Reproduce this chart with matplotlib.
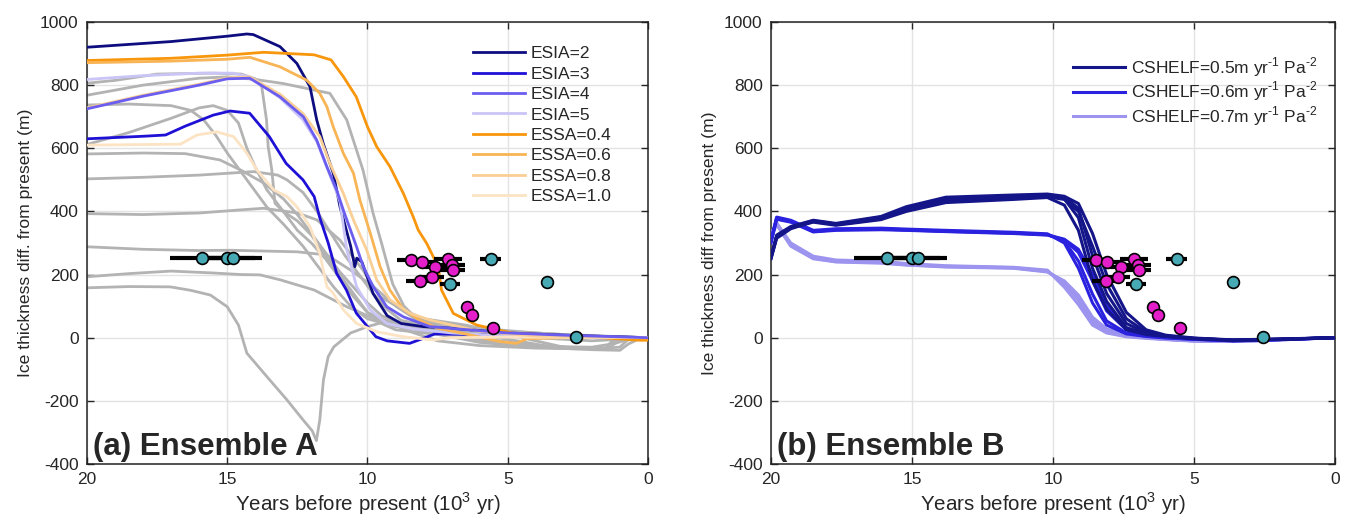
import matplotlib.pyplot as plt

plt.rcParams['font.family'] = ['Liberation Sans', 'DejaVu Sans']
plt.rcParams['text.color'] = '#262626'
plt.rcParams['axes.labelcolor'] = '#262626'
plt.rcParams['xtick.color'] = '#262626'
plt.rcParams['ytick.color'] = '#262626'
plt.rcParams['axes.unicode_minus'] = False
plt.rcParams['mathtext.fontset'] = 'custom'
plt.rcParams['mathtext.rm'] = 'Liberation Sans'

# ---- Ensemble A: highlighted runs (x in 10^3 yr BP, y in m) ----
esia2_x = [20, 17, 15, 14.3, 14.07, 13.12, 12.52, 12.05, 11.81, 11.58, 11.22, 10.98, 10.6, 10.45, 10.38,
           10.2, 9.8, 9.3, 8.8, 8.0, 7.0, 5.0, 3.0, 0]
esia2_y = [920, 938, 955, 962, 960, 922, 869, 795, 690, 616, 521, 415, 290, 225, 252,
           240, 140, 70, 45, 35, 30, 15, 8, 0]
esia3_x = [20, 18, 17.2, 16.5, 15.5, 14.9, 14.2, 13.5, 12.9, 12.3, 11.9, 11.7, 11.4, 11.1, 10.75,
           10.4, 10.0, 9.7, 9.3, 8.5, 8.1, 7.6, 6.0, 3.0, 0]
esia3_y = [630, 638, 642, 670, 705, 718, 711, 637, 552, 500, 447, 380, 300, 204, 151,
           78, 35, 3, -10, -18, -5, 12, 10, 4, 0]
esia4_x = [20, 18, 16, 15, 14.2, 13.12, 12.29, 11.81, 11.45, 11.1, 10.86, 10.39, 10.15, 9.8, 9.31,
           8.72, 7.77, 5.0, 3.0, 0]
esia4_y = [725, 765, 800, 820, 822, 763, 700, 626, 542, 468, 404, 288, 225, 162, 98,
           66, 35, 15, 8, 0]
esia5_x = [20, 18, 16, 14.8, 14.2, 13.12, 12.3, 11.8, 11.45, 11.1, 10.98, 10.74, 10.39, 9.9, 9.31,
           8.4, 7.0, 5.0, 0]
esia5_y = [818, 830, 838, 838, 826, 760, 690, 620, 540, 460, 430, 280, 162, 88, 45,
           28, 15, 5, 0]
essa04_x = [20, 17, 15, 13.7, 11.9, 11.3, 10.86, 10.4, 10.0, 9.67, 9.2, 8.72, 8.37, 8.19, 7.89,
            7.48, 7.36, 6.94, 6.1, 4.8, 2.0, 0.8, 0.3, 0]
essa04_y = [878, 885, 895, 904, 896, 880, 827, 763, 668, 605, 542, 457, 383, 341, 299,
            225, 151, 77, 40, 14, 2, -5, -8, -8]
essa06_x = [20, 17, 15, 14.19, 13.12, 12.17, 11.7, 11.45, 11.22, 10.86, 10.5, 10.27, 9.9, 9.55, 9.2,
            8.72, 8.13, 7.5, 6.5, 5.3, 4.7, 4.3, 2.0, 0]
essa06_y = [871, 876, 882, 888, 858, 816, 774, 732, 668, 584, 521, 436, 331, 225, 151,
            90, 55, 30, 12, -12, -18, -3, 2, 0]
essa08_x = [20, 18, 16, 15, 14.2, 13.1, 12.3, 11.7, 11.34, 10.86, 10.5, 10.03, 9.67, 9.2, 8.48,
            7.77, 6.0, 4.0, 0]
essa08_y = [728, 768, 803, 823, 826, 770, 710, 637, 552, 457, 373, 278, 183, 120, 77,
            56, 20, 5, 0]
essa10_x = [20, 16.67, 16.08, 15.37, 14.77, 14.3, 13.94, 13.34, 12.87, 12.52, 12.05, 11.7, 11.45, 11.22, 10.86,
            10.39, 9.67, 8.72, 7.66, 7.06, 5.0, 0]
essa10_y = [610, 613, 642, 652, 637, 584, 531, 468, 447, 415, 352, 267, 162, 141, 88,
            45, 19, 3, -7, 0, 2, 0]

# ---- Ensemble A: other runs (grey) ----
grey_x = [
    [20, 19, 17.5, 15.5, 14.5, 14.0, 13.77, 13.6, 13.54, 13.41, 13.3, 13.0, 12.5, 12.0, 11.5, 11.0,
     10.5, 10.0, 9.5, 9.0, 7.0, 5.0, 3.0, 1.5, 1.2, 0.5, 0],
    [20, 18, 16, 15, 14, 13, 12.2, 11.34, 10.74, 10.16, 9.8, 9.5, 9.1, 8.7, 8.3, 7.5, 6.0, 4.0, 2.0, 0],
    [20, 18.5, 17, 16.3, 15.84, 15.4, 15.0, 14.3, 13.58, 13.0, 12.3, 11.8, 11.2, 10.6, 10.0, 9.0, 7.0,
     4.0, 2.0, 1.0, 0.7, 0],
    [20, 18.5, 17, 16, 15.5, 15.0, 14.6, 14.3, 14.0, 13.6, 13.0, 12.5, 12.0, 11.5, 11.0, 10.5, 10.0,
     9.0, 7.0, 5.0, 2.0, 0],
    [20, 18, 16.5, 15.26, 14.5, 13.7, 13.0, 12.5, 12.0, 11.5, 11.0, 10.5, 10.0, 9.5, 9.0, 8.0, 6.0, 3.0, 0],
    [20, 18, 16, 14.06, 13.2, 12.87, 12.3, 11.8, 11.3, 10.8, 10.3, 9.8, 9.3, 8.8, 8.0, 6.0, 3.0, 0],
    [20, 18, 16, 14.5, 13.7, 12.5, 11.8, 10.98, 10.16, 9.55, 8.73, 8.0, 6.5, 5.0, 3.0, 1.5, 1.0, 0],
    [20, 18, 16, 14.9, 12.5, 11.45, 10.6, 9.79, 8.96, 8.3, 7.0, 5.0, 3.5, 2.0, 1.3, 0.5, 0],
    [20, 18.5, 17.0, 15.5, 14.5, 13.83, 13.1, 11.9, 10.74, 9.9, 9.0, 8.0, 6.0, 4.0, 2.0, 1.0, 0.7, 0.3, 0],
    [20, 18.5, 17.03, 16.3, 15.6, 15.0, 14.6, 14.3, 13.58, 12.87, 12.3, 11.97, 11.82, 11.7, 11.57, 11.4,
     11.2, 10.6, 10.0, 9.4, 9.0, 8.5, 7.5, 6.0, 4.0, 2.5, 1.5, 1.3, 0.5, 0],
]
grey_y = [
    [806, 815, 835, 838, 835, 820, 795, 690, 605, 531, 426, 400, 370, 325, 260, 200,
     140, 80, 45, 25, 5, -20, -30, -35, -12, 0, 0],
    [768, 800, 822, 826, 818, 805, 790, 774, 690, 531, 394, 300, 170, 100, 65, 45, 30, 15, 5, 0],
    [737, 740, 735, 720, 690, 640, 585, 500, 413, 360, 290, 230, 160, 100, 60, 35, 10,
     -25, -35, -30, -5, 0],
    [612, 650, 695, 728, 735, 720, 680, 600, 540, 470, 400, 340, 300, 250, 190, 130, 80,
     40, 20, 5, -10, 0],
    [582, 585, 583, 563, 530, 490, 440, 390, 330, 270, 210, 160, 110, 70, 50, 35, 20, 5, 0],
    [503, 508, 515, 526, 515, 500, 460, 400, 330, 260, 200, 140, 90, 55, 40, 25, 10, 0],
    [393, 390, 395, 405, 410, 395, 373, 309, 214, 130, 88, 60, 40, 10, -30, -35, -10, 0],
    [288, 280, 276, 277, 272, 262, 214, 162, 98, 60, 25, -5, -28, -30, -20, -2, 0],
    [193, 203, 211, 205, 200, 199, 183, 151, 98, 66, 45, 20, -15, -30, -38, -40, -20, -3, 0],
    [158, 162, 161, 150, 135, 98, 40, -49, -124, -197, -260, -295, -326, -260, -134, -60,
     -29, 15, 35, 50, 40, 20, -10, -25, -33, -35, -33, -12, 0, 0],
]

# ---- Ensemble B: common time axis, members per CSHELF value ----
b_years = [20, 19.8, 19.3, 18.5, 17.7, 16.1, 15.2, 13.8, 11.4, 10.2, 9.6, 9.1, 8.6, 8.1, 7.4,
           6.7, 6.0, 5.0, 3.6, 2.0, 0]
cshelf05_runs = [
    [254, 320, 350, 370, 360, 380, 412, 440, 449, 452, 440, 380, 220, 115, 32, 12, 5, -3, -8, -5, 0],
    [250, 315, 345, 368, 358, 376, 405, 432, 442, 446, 438, 400, 290, 170, 60, 18, 6, -2, -8, -5, 0],
    [256, 325, 352, 372, 362, 384, 415, 445, 452, 455, 448, 425, 330, 200, 80, 25, 8, -1, -7, -4, 0],
    [252, 318, 348, 366, 356, 374, 400, 428, 438, 444, 420, 340, 180, 90, 25, 10, 4, -3, -8, -5, 0],
    [255, 322, 350, 370, 360, 382, 410, 438, 446, 450, 445, 410, 260, 140, 45, 15, 5, -2, -8, -5, 0],
]
cshelf06_runs = [
    [306, 380, 370, 338, 343, 345, 342, 338, 332, 327, 306, 243, 138, 53, 15, 5, 0, -5, -10, -6, 0],
    [300, 375, 366, 335, 340, 342, 340, 336, 330, 325, 310, 270, 180, 85, 25, 8, 2, -4, -9, -6, 0],
    [310, 382, 372, 340, 345, 347, 344, 340, 334, 329, 300, 220, 110, 40, 12, 4, -1, -5, -10, -6, 0],
    [304, 378, 368, 336, 342, 344, 341, 337, 331, 326, 312, 280, 200, 100, 30, 10, 2, -4, -9, -6, 0],
]
cshelf07_runs = [
    [327, 364, 296, 254, 243, 240, 233, 226, 222, 211, 170, 120, 50, 20, 5, 0, -5, -10, -12, -7, 0],
    [320, 358, 290, 250, 240, 236, 230, 224, 220, 208, 180, 135, 65, 28, 8, 0, -5, -10, -12, -7, 0],
    [330, 362, 300, 258, 246, 242, 235, 228, 223, 214, 160, 105, 40, 15, 3, -2, -6, -11, -12, -7, 0],
    [324, 360, 292, 252, 241, 238, 231, 225, 221, 210, 175, 128, 58, 24, 6, 0, -5, -10, -12, -7, 0],
]
cshelf_labels = ['CSHELF=0.5m yr$^{\\text{-1}}$ Pa$^{\\text{-2}}$',
                 'CSHELF=0.6m yr$^{\\text{-1}}$ Pa$^{\\text{-2}}$',
                 'CSHELF=0.7m yr$^{\\text{-1}}$ Pa$^{\\text{-2}}$']

# ---- observations ----
pink_age = [8.46, 8.07, 7.12, 7.59, 6.97, 6.96, 8.13, 7.71, 6.44, 6.29, 5.51]
pink_thk = [246, 241, 248, 223, 230, 214, 180, 191, 96, 72, 30]
pink_err = [0.5, 0.5, 0.5, 0.45, 0.45, 0.45, 0.5, 0.45, 0, 0, 0]
teal_age = [15.9, 15.0, 14.8, 5.61, 7.06, 3.61, 2.57]
teal_thk = [252, 252, 252, 248, 170, 177, 1]
teal_err = [1.15, 1.0, 1.05, 0.37, 0.35, 0, 0]

xticks = [20, 15, 10, 5, 0]
yticks = [-400, -200, 0, 200, 400, 600, 800, 1000]


def style_axes(ax, ylabel, tag):
    ax.set_xlim(20, 0)
    ax.set_ylim(-400, 1000)
    ax.set_xticks(xticks)
    ax.set_yticks(yticks)
    ax.tick_params(direction='in', length=5, width=1, top=True, right=True,
                   labelsize=12.5, pad=6)
    ax.grid(True, color='#e3e3e3', lw=1)
    ax.set_axisbelow(True)
    for sp in ax.spines.values():
        sp.set_linewidth(1.1)
        sp.set_color('#222222')
    ax.set_xlabel('Years before present (10$^3$ yr)', fontsize=14.8, labelpad=2)
    ax.set_ylabel(ylabel, fontsize=12.6, labelpad=5)
    ax.text(0.011, 0.02, tag, transform=ax.transAxes, fontsize=22.5, fontweight='bold',
            va='baseline', ha='left', color='#262626')


def draw_obs(ax):
    ax.errorbar(pink_age, pink_thk, xerr=pink_err, fmt='none', ecolor='black', elinewidth=3,
                capsize=0, zorder=5)
    ax.errorbar(teal_age, teal_thk, xerr=teal_err, fmt='none', ecolor='black', elinewidth=3,
                capsize=0, zorder=5)
    ax.plot(pink_age, pink_thk, 'o', ms=8.5, mfc='#e41fc9', mec='black', mew=1.2, zorder=6)
    ax.plot(teal_age, teal_thk, 'o', ms=8.5, mfc='#47a9b4', mec='black', mew=1.2, zorder=6)


fig = plt.figure(figsize=(13.51, 5.16), dpi=100)
ax_a = fig.add_axes([0.0644, 0.1008, 0.4152, 0.8566])
ax_b = fig.add_axes([0.5707, 0.1008, 0.4175, 0.8566])

# panel a
for gx, gy in zip(grey_x, grey_y):
    ax_a.plot(gx, gy, color='#b3b3b3', lw=2.0, zorder=2)
ax_a.plot(esia2_x, esia2_y, color='#0d0d80', lw=2.0, label='ESIA=2', zorder=3)
ax_a.plot(esia3_x, esia3_y, color='#1f10d6', lw=2.0, label='ESIA=3', zorder=3)
ax_a.plot(esia4_x, esia4_y, color='#6b5df0', lw=2.0, label='ESIA=4', zorder=3.2)
ax_a.plot(esia5_x, esia5_y, color='#c9c5f7', lw=2.0, label='ESIA=5', zorder=3)
ax_a.plot(essa04_x, essa04_y, color='#f8960c', lw=2.0, label='ESSA=0.4', zorder=3)
ax_a.plot(essa06_x, essa06_y, color='#f8b455', lw=2.0, label='ESSA=0.6', zorder=3)
ax_a.plot(essa08_x, essa08_y, color='#f9cf96', lw=2.0, label='ESSA=0.8', zorder=3.1)
ax_a.plot(essa10_x, essa10_y, color='#fce3c3', lw=2.0, label='ESSA=1.0', zorder=3)
draw_obs(ax_a)
style_axes(ax_a, 'Ice thickness diff. from present (m)', '(a) Ensemble A')
ax_a.legend(loc='upper left', bbox_to_anchor=(0.688, 0.945), frameon=False, fontsize=12.5,
            handlelength=3.0, handletextpad=0.35, labelspacing=0.3, borderpad=0, borderaxespad=0)

# panel b
groups = [
    (cshelf05_runs, '#15158a', cshelf_labels[0]),
    (cshelf06_runs, '#2b22e0', cshelf_labels[1]),
    (cshelf07_runs, '#9c94ee', cshelf_labels[2]),
]
for runs, col, lab in groups[::-1]:
    for i, run in enumerate(runs):
        ax_b.plot(b_years, run, color=col, lw=2.2, zorder=3,
                  label=lab if i == 0 else None)
draw_obs(ax_b)
style_axes(ax_b, 'Ice thickness diff from present (m)', '(b) Ensemble B')
h, l = ax_b.get_legend_handles_labels()
ax_b.legend(h[::-1], l[::-1], loc='upper left', bbox_to_anchor=(0.535, 0.925), frameon=False,
            fontsize=12.5, handlelength=3.0, handletextpad=0.35, labelspacing=0.05,
            borderpad=0, borderaxespad=0)

fig.savefig('out.png', dpi=100)
